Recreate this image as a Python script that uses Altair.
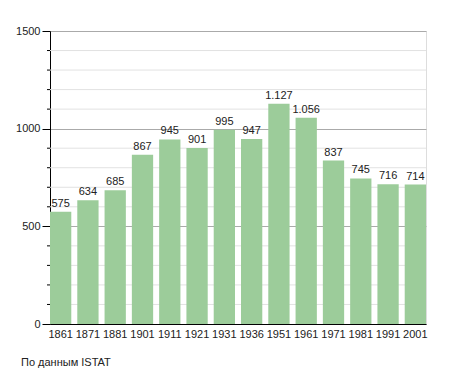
import altair as alt
import pandas as pd

years = ["1861", "1871", "1881", "1901", "1911", "1921", "1931", "1936",
         "1951", "1961", "1971", "1981", "1991", "2001"]
population = [575, 634, 685, 867, 945, 901, 995, 947, 1127, 1056, 837, 745, 716, 714]
major_ticks = [0, 500, 1000, 1500]
minor_ticks = [v for v in range(0, 1501, 100) if v % 500 != 0]
source_note = "По данным ISTAT"

df = pd.DataFrame({
    "year": years,
    "pop": population,
    "label": [f"{v:,}".replace(",", ".") for v in population],
})
minor_df = pd.DataFrame({"pop": minor_ticks})

FONT = "Liberation Sans"

yscale = alt.Scale(domain=[0, 1500], nice=False)
yaxis = alt.Axis(values=major_ticks, format="d", domainColor="#000", tickColor="#000",
                 tickSize=8, grid=True, gridColor="#aaaaaa",
                 labelOverlap=False, labelFlush=False,
                 labelFont=FONT, labelFontSize=11, labelColor="#222",
                 labelPadding=2)

x = alt.X("year:N", sort=years, title=None,
          scale=alt.Scale(paddingInner=0.22, paddingOuter=0),
          axis=alt.Axis(labelAngle=0, ticks=False, domainColor="#000",
                        labelFont=FONT, labelFontSize=11, labelColor="#222",
                        labelPadding=4))
y = alt.Y("pop:Q", title=None, scale=yscale, axis=yaxis)

minor_grid = alt.Chart(minor_df).mark_rule(color="#e2e2e2", strokeWidth=1).encode(
    y=y, x=alt.value(0), x2=alt.value(376))
minor_tick = alt.Chart(minor_df).mark_rule(color="#000", strokeWidth=1).encode(
    y=y, x=alt.value(-3), x2=alt.value(0))

bars = alt.Chart(df).mark_bar(color="#9ccc9a").encode(x=x, y=y)
texts = alt.Chart(df).mark_text(baseline="bottom", dy=-3, font=FONT, fontSize=11,
                                color="#222").encode(x=x, y=y, text="label:N")
note = alt.Chart(pd.DataFrame({"t": [source_note]})).mark_text(
    align="left", baseline="alphabetic", font=FONT, fontSize=11, color="#222"
).encode(x=alt.value(-29), y=alt.value(335), text="t:N")

chart = alt.layer(minor_grid, bars, minor_tick, texts, note).properties(
    width=376, height=293,
    autosize=alt.AutoSizeParams(type="none"),
    padding={"left": 42, "top": 23, "right": 21, "bottom": 49},
).configure_view(stroke=None).configure(background="#ffffff")

chart.save("out.html", embed_options={"renderer": "svg", "actions": False})
